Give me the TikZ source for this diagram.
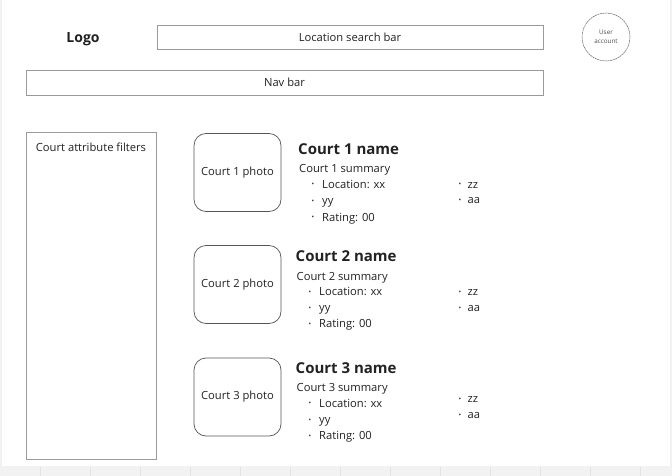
\documentclass[tikz,border=0pt]{standalone}
\usepackage{fontspec}
\setmainfont{Open Sans}
\usetikzlibrary{positioning}
\definecolor{inkgray}{HTML}{222222}
\definecolor{linegray}{HTML}{9A9A9A}
\definecolor{boxgray}{HTML}{555555}
\definecolor{pagegray}{HTML}{F2F2F2}
\newcommand{\bul}[1][10.5pt]{\makebox[#1][l]{\raisebox{0.2ex}{\fontsize{7}{7}\selectfont •}}}

\begin{document}
\begin{tikzpicture}[x=1pt, y=-1pt,
    txt/.style={inner sep=0pt, text=inkgray, font=\fontsize{11.2}{13}\selectfont},
    left txt/.style={txt, anchor=base west},
    bar/.style={txt, draw=linegray, line width=0.9pt},
    photo/.style={txt, draw=boxgray, line width=0.7pt, rounded corners=12pt,
      minimum width=87pt, minimum height=78pt},
    courtname/.style={left txt, font=\fontsize{15}{18}\selectfont\bfseries}]
  \useasboundingbox (0,0) rectangle (672,476);
  \fill[pagegray] (0,0) rectangle (672,476);
  \fill[white] (2,0) rectangle (670,466);
  \foreach \x in {40,90,...,640}
    \draw[gray!22, line width=0.8pt] (\x,467) -- (\x,476);

  % header
  \node[txt, font=\fontsize{14}{16}\selectfont\bfseries] (logo) at (83,39.5) {Logo};
  \node[bar, minimum width=386pt, minimum height=24pt] (search) at (350,37) {Location search bar};
  \node[circle, draw=gray!80!black, line width=0.5pt, dash pattern=on 2pt off 0.6pt,
    minimum size=48pt, inner sep=0pt, align=center, text=gray!60!black,
    font=\fontsize{6.3}{9}\selectfont] (user) at (606,37) {User\\account};
  \node[bar, minimum width=517pt, minimum height=25pt] (nav) at (284.5,82.5) {Nav bar};

  % filters
  \node[bar, minimum width=130pt, minimum height=327pt] (filters) at (91,295.5) {};
  \node[txt, anchor=base] (filtertitle) at (91,151.5) {Court attribute filters};

  % court 1
  \node[photo] (photo1) at (237.5,172.5) {Court 1 photo};
  \node[courtname] (name1) at (298,154) {Court 1 name};
  \node[left txt] (summary1) at (299,172) {Court 1 summary};
  \node[left txt] (loc1) at (311.5,188) {\bul Location: xx};
  \node[left txt] (yy1) at (311.5,204.5) {\bul yy};
  \node[left txt] (rating1) at (311.5,221) {\bul Rating: 00};
  \node[left txt] (zz1) at (458.5,188) {\bul[9pt]zz};
  \node[left txt] (aa1) at (458.5,204) {\bul[9pt]aa};

  % court 2
  \node[photo] (photo2) at (237.5,284.5) {Court 2 photo};
  \node[courtname] (name2) at (295.5,261.7) {Court 2 name};
  \node[left txt] (summary2) at (296.5,280) {Court 2 summary};
  \node[left txt] (loc2) at (308.5,295.5) {\bul Location: xx};
  \node[left txt] (yy2) at (308.5,311.7) {\bul yy};
  \node[left txt] (rating2) at (308.5,327.7) {\bul Rating: 00};
  \node[left txt] (zz2) at (458.5,295.5) {\bul[9pt]zz};
  \node[left txt] (aa2) at (458.5,311.5) {\bul[9pt]aa};

  % court 3
  \node[photo] (photo3) at (237.5,397) {Court 3 photo};
  \node[courtname] (name3) at (295.5,373.7) {Court 3 name};
  \node[left txt] (summary3) at (296.5,391) {Court 3 summary};
  \node[left txt] (loc3) at (308.5,407) {\bul Location: xx};
  \node[left txt] (yy3) at (308.5,423.7) {\bul yy};
  \node[left txt] (rating3) at (308.5,439.7) {\bul Rating: 00};
  \node[left txt] (zz3) at (458.5,402.7) {\bul[9pt]zz};
  \node[left txt] (aa3) at (458.5,418.7) {\bul[9pt]aa};
\end{tikzpicture}
\end{document}
